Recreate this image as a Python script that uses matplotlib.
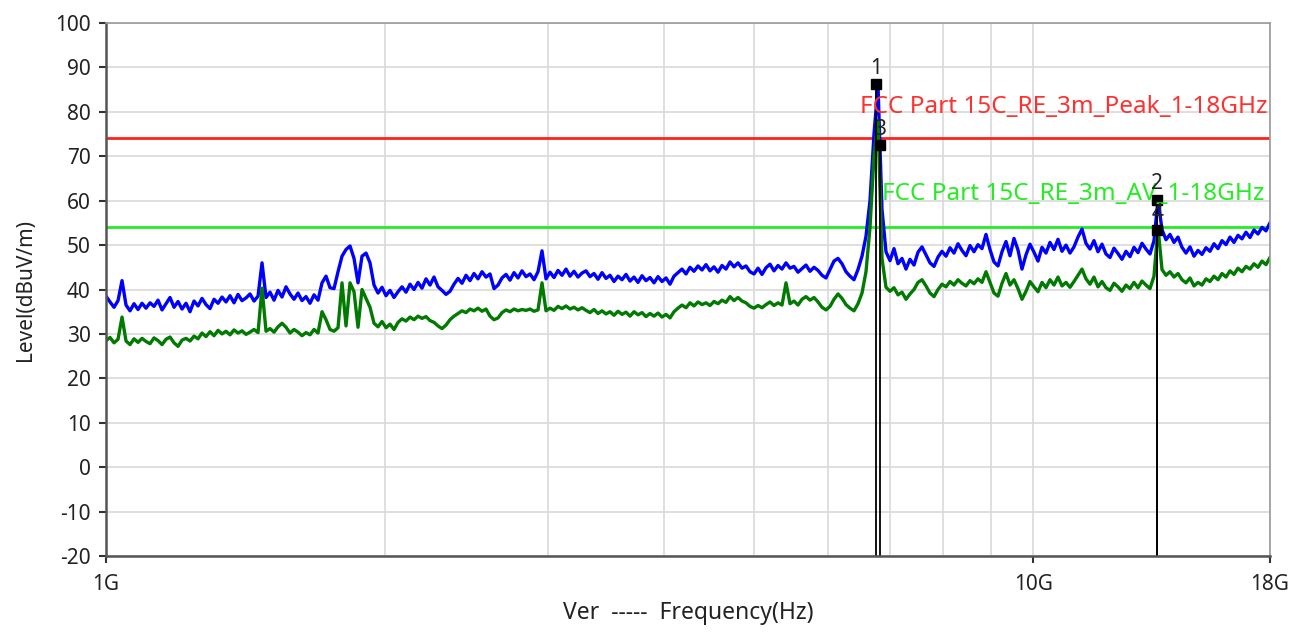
import matplotlib
matplotlib.use("Agg")
import matplotlib.pyplot as plt
import numpy as np

# sweep: 1 GHz .. 18 GHz, points evenly spaced on the log axis
f_start, f_stop = 1e9, 18e9

peak_level = [
    38.5, 37.2, 36.0, 37.5, 42.0, 36.5, 35.2, 36.8, 35.5, 36.9,
    35.8, 37.0, 36.2, 37.6, 35.4, 36.8, 38.2, 36.0, 37.3, 35.6,
    36.9, 35.0, 37.4, 36.3, 38.0, 36.6, 35.7, 37.8, 36.9, 38.3,
    37.2, 38.6, 37.0, 38.9, 37.5, 38.1, 39.0, 37.4, 38.5, 46.0,
    38.2, 39.4, 37.6, 39.8, 38.3, 40.6, 39.0, 37.8, 39.2, 37.5,
    38.4, 36.9, 38.8, 37.6, 41.5, 43.0, 40.4, 40.2, 44.0, 47.5,
    49.0, 49.8, 47.0, 41.5, 47.5, 48.2, 46.0, 41.0, 39.2, 40.5,
    38.6, 39.8, 38.2, 39.5, 40.6, 39.4, 41.2, 40.0, 41.6, 40.3,
    42.4, 41.0, 42.8, 40.6, 39.8, 38.9, 39.6, 41.2, 42.5, 41.4,
    43.2, 42.0, 43.6, 42.4, 44.0, 42.8, 43.5, 40.2, 41.0, 42.6,
    43.4, 42.1, 43.8, 42.6, 44.2, 42.9, 43.5, 42.2, 44.0, 48.7,
    42.4, 43.9, 42.7, 44.3, 43.2, 44.6, 43.0, 44.1, 42.8, 43.7,
    44.2, 42.9, 43.6, 42.3, 43.8, 42.5, 43.2, 41.8, 43.0, 42.2,
    43.4, 41.9, 42.8, 41.6, 43.1, 42.0, 42.7, 41.5, 42.9, 41.8,
    42.6, 41.2, 43.0, 43.8, 44.6, 43.5, 45.0, 44.1, 45.3, 44.4,
    45.6, 44.2, 45.1, 43.9, 45.4, 44.6, 46.2, 45.1, 46.0, 44.8,
    45.3, 44.0, 43.5, 44.8, 43.4, 44.9, 45.7, 44.2, 45.4, 44.6,
    46.0, 44.8, 45.2, 43.9, 44.7, 45.5, 44.1, 45.0, 44.3, 43.2,
    42.6, 44.5, 46.4, 47.0, 45.8, 44.0, 43.0, 42.2, 44.5, 47.5,
    52.0, 60.0, 75.0, 86.0, 58.0, 48.5, 46.5, 49.2, 45.8, 47.0,
    44.6, 46.8, 45.5, 48.4, 49.6, 47.8, 46.0, 45.2, 47.3, 48.6,
    47.5, 49.4, 48.2, 50.3, 48.8, 47.6, 49.9, 48.5, 50.1, 49.2,
    52.4, 49.0, 46.2, 45.3, 48.5, 50.8, 47.6, 51.5, 48.9, 44.6,
    47.8, 50.2, 48.4, 46.4, 49.5, 48.2, 50.6, 49.0, 51.3, 48.6,
    50.0, 48.2, 49.6, 51.8, 53.6, 50.4, 49.1, 51.0, 48.5, 50.2,
    48.0, 47.2, 49.3, 48.1, 46.8, 48.6, 47.4, 49.5, 48.3, 50.4,
    49.1, 48.0, 51.0, 60.2, 53.5, 51.2, 52.4, 50.6, 51.8, 49.5,
    48.2, 49.6, 47.5, 48.8, 47.9, 49.4, 48.6, 50.3, 49.2, 51.0,
    50.1, 51.8, 50.6, 52.2, 51.4, 52.9, 51.7, 53.4, 52.5, 54.0,
    53.2, 55.0,
]

avg_level = [
    28.5, 29.2, 28.0, 28.8, 33.8, 28.4, 27.6, 28.9, 28.1, 29.0,
    28.3, 27.8, 29.1, 28.5, 27.6, 28.8, 29.3, 28.0, 27.2, 28.6,
    29.0, 28.4, 29.5, 28.9, 30.2, 29.4, 30.5, 29.6, 30.8, 30.0,
    30.6, 29.8, 30.9, 30.2, 30.7, 29.9, 30.4, 31.0, 30.3, 40.3,
    30.6, 31.2, 30.4, 31.6, 32.4, 31.5, 30.2, 31.0, 30.4, 29.6,
    30.3, 29.8, 31.0, 30.2, 35.0, 33.2, 31.0, 30.6, 31.4, 41.5,
    31.8, 41.5, 39.5, 31.5, 40.0, 38.0, 36.0, 32.4, 31.6, 32.8,
    31.4, 32.2, 31.0, 32.6, 33.4, 32.9, 33.8, 33.2, 34.0, 33.5,
    33.9, 33.0, 32.6, 31.8, 31.2, 32.0, 33.2, 34.0, 34.6, 35.2,
    34.8, 35.6, 35.2, 35.8, 35.1, 35.6, 34.0, 33.2, 33.6, 34.8,
    35.4, 35.0, 35.6, 35.2, 35.5, 35.3, 35.6, 35.1, 35.4, 41.5,
    35.2, 35.8, 35.3, 36.2, 35.7, 36.3, 35.6, 36.0, 35.4, 35.9,
    35.3, 34.8, 35.5, 34.6, 35.2, 34.5, 35.0, 34.2, 35.1, 34.4,
    34.9, 34.0, 35.0, 34.3, 34.8, 33.9, 34.6, 34.0, 34.7, 33.8,
    34.4, 33.6, 35.0, 35.8, 36.5, 35.9, 37.0, 36.3, 37.2, 36.6,
    37.0, 36.4, 37.3, 36.8, 37.6, 37.1, 38.4, 37.5, 38.2, 37.4,
    37.0, 36.2, 35.8, 36.4, 35.9, 36.6, 37.2, 36.4, 37.0, 36.5,
    41.5, 36.8, 37.4, 36.5, 37.8, 38.4, 37.6, 38.2, 37.2, 36.0,
    35.4, 36.2, 37.8, 39.0, 38.0, 36.6, 35.8, 35.2, 36.8, 39.2,
    44.0, 54.0, 70.0, 78.0, 47.0, 40.5, 39.6, 40.4, 38.8, 39.4,
    37.8, 39.0, 40.0, 41.6, 42.2, 40.8, 39.2, 38.4, 40.0, 41.2,
    40.6, 41.8, 41.0, 42.2, 41.4, 40.8, 42.0, 41.3, 42.4, 41.6,
    44.0, 41.6, 39.2, 38.5, 41.4, 43.6, 41.0, 42.2, 40.2, 37.8,
    39.6, 41.8, 40.6, 39.5, 41.6, 40.4, 42.2, 41.0, 42.8, 40.8,
    41.6, 40.5, 41.8, 43.2, 44.6, 42.4, 41.2, 42.8, 40.6, 41.8,
    40.4, 39.8, 41.4, 40.6, 39.6, 41.0, 40.2, 41.6, 40.4, 41.9,
    41.0, 40.2, 43.0, 54.0, 44.5, 43.2, 44.0, 42.8, 43.6, 42.2,
    41.5, 42.6, 40.8, 41.6, 41.0, 42.4, 41.8, 43.0, 42.2, 43.6,
    42.8, 44.2, 43.4, 44.8, 44.0, 45.2, 44.6, 45.8, 45.0, 46.4,
    45.6, 47.2,
]

limit_peak = 74.0
limit_avg = 54.0
limit_peak_name = "FCC Part 15C_RE_3m_Peak_1-18GHz"
limit_avg_name = "FCC Part 15C_RE_3m_AV_1-18GHz"

marker_ids = ["1", "2", "3", "4"]
marker_freq = [6.77e9, 13.6e9, 6.84e9, 13.6e9]
marker_level = [86.3, 60.2, 72.5, 53.5]

xtick_vals = [1e9, 10e9, 18e9]
xtick_labels = ["1G", "10G", "18G"]

freq = np.geomspace(f_start, f_stop, len(peak_level))

plt.rcParams['font.family'] = ['Noto Sans', 'DejaVu Sans']
plt.rcParams['axes.unicode_minus'] = False

fig = plt.figure(figsize=(12.93, 6.33), dpi=100)
ax = fig.add_axes([0.082, 0.1216, 0.9002, 0.8421])

ax.set_xscale('log')
ax.set_xlim(f_start, f_stop)
ax.set_ylim(-20, 100)

# grid
ax.set_yticks(np.arange(-20, 101, 10))
ax.set_xticks(xtick_vals)
ax.set_xticklabels(xtick_labels)
ax.set_xticks([k * 1e9 for k in range(2, 10)], minor=True)
ax.xaxis.set_minor_formatter(matplotlib.ticker.NullFormatter())
ax.grid(True, which='both', color='#d9d9d9', linewidth=1.2)
ax.set_axisbelow(True)
ax.tick_params(axis='x', which='minor', length=0)
ax.tick_params(axis='both', which='major', labelsize=15, length=5,
               width=1.5, color='#333333', labelcolor='#222222')
ax.tick_params(axis='x', pad=8)
ax.tick_params(axis='y', pad=6)

for side in ['left', 'bottom']:
    ax.spines[side].set_color('#555555')
    ax.spines[side].set_linewidth(1.8)
for side in ['top', 'right']:
    ax.spines[side].set_color('#999999')
    ax.spines[side].set_linewidth(1.2)

# limit lines
ax.axhline(limit_peak, color='#ff2020', linewidth=2)
ax.axhline(limit_avg, color='#22ee22', linewidth=2)
ax.text(17.9e9, 81.0, limit_peak_name, color='#ff3030', fontsize=17.5,
        ha='right', va='center')
ax.text(17.75e9, 61.6, limit_avg_name, color='#22ee22', fontsize=17.5,
        ha='right', va='center')

# traces
ax.plot(freq, peak_level, color='#0000ff', linewidth=2.4)
ax.plot(freq, avg_level, color='#007a00', linewidth=2.4)

# markers
for mid, mf, ml in zip(marker_ids, marker_freq, marker_level):
    ax.plot([mf, mf], [-20, ml], color='black', linewidth=1.3)
    ax.plot(mf, ml, marker='s', markersize=7, color='black')
    ax.text(mf, ml + 1.2, mid, fontsize=15, color='#222222',
            ha='center', va='bottom')

ax.set_xlabel("Ver  -----  Frequency(Hz)", fontsize=16.5, labelpad=4,
              color='#222222')
ax.set_ylabel("Level(dBuV/m)", fontsize=15, labelpad=14, color='#222222')

fig.savefig("out.png", dpi=100)
